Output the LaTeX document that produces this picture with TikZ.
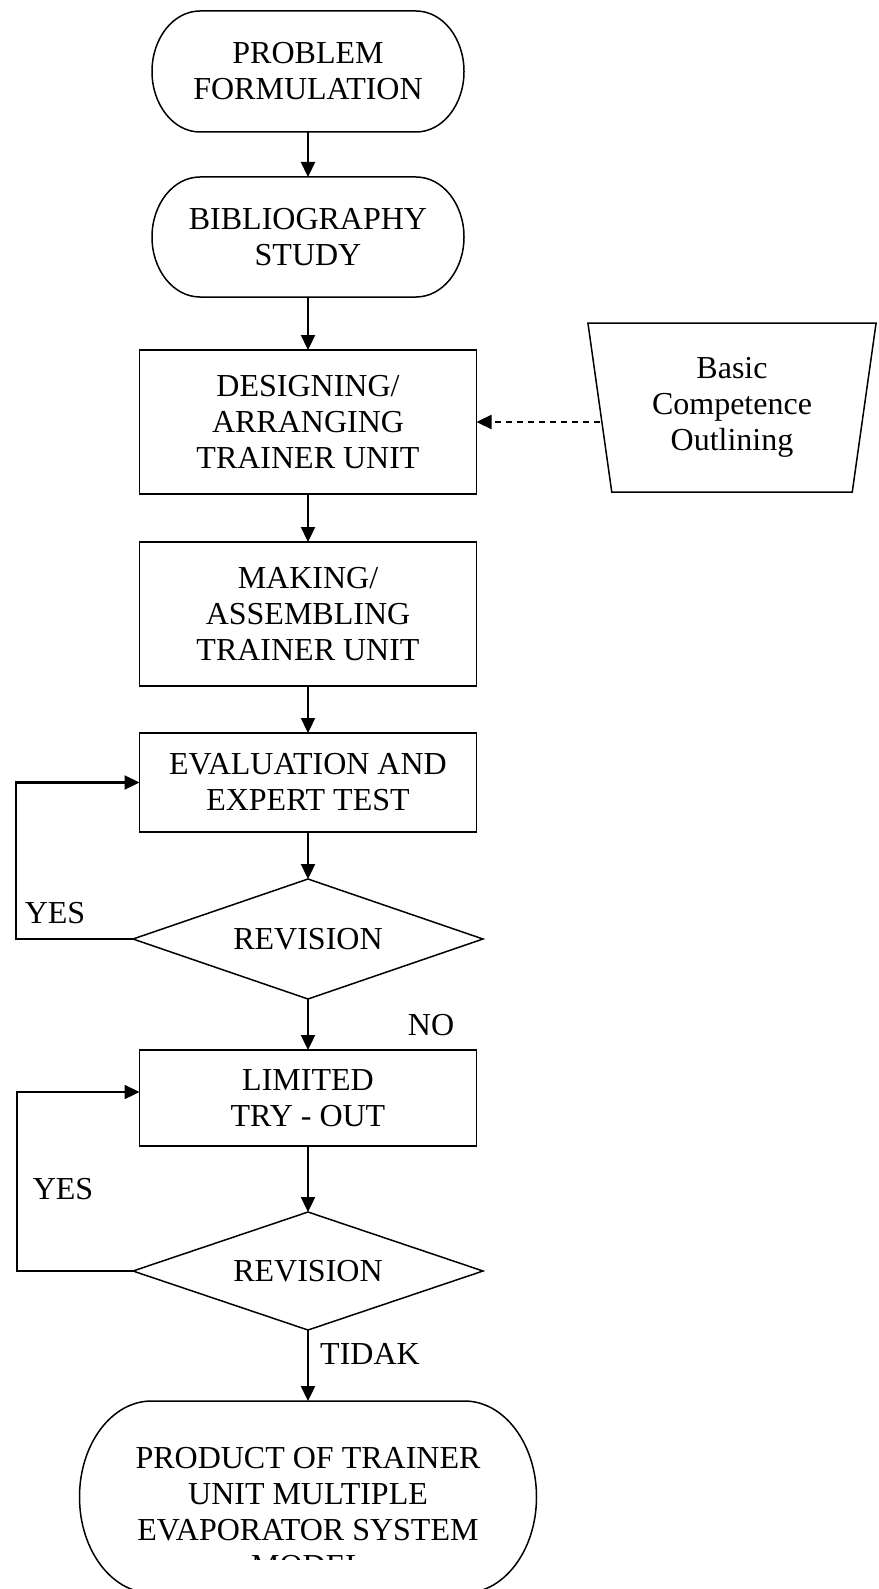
\documentclass[tikz,border=0pt]{standalone}
\usepackage{fontspec}
\setmainfont{Liberation Serif}
\usetikzlibrary{positioning,arrows.meta,shapes.geometric,calc}

\begin{document}
\begin{tikzpicture}[
        x=1pt, y=1pt,
        font=\fontsize{32pt}{36pt}\selectfont,
        every node/.style={outer sep=0pt},
        box/.style={draw, line width=1.5pt, align=center, inner sep=0pt, minimum width=337pt},
        terminal/.style={align=center, inner sep=0pt},
        decision/.style={draw, diamond, line width=1.5pt, inner sep=0pt, minimum width=350pt, minimum height=120pt, aspect=2.9},
        flow/.style={line width=2.3pt, -{Triangle[length=15pt,width=14pt]}},
        tag/.style={inner sep=0pt}
    ]
        \useasboundingbox (0,0) rectangle (878,-1589);

        % Main column
        \node[terminal, minimum width=312pt, minimum height=121pt] (prob) at (308,-71.5) {PROBLEM\\FORMULATION};
        \node[terminal, minimum width=312pt, minimum height=120pt, below=45pt of prob] (bib) {BIBLIOGRAPHY\\STUDY};
        \node[box, minimum height=144pt, below=53pt of bib] (design) {DESIGNING/\\ARRANGING\\TRAINER UNIT};
        \node[box, minimum height=144pt, below=48pt of design] (make) {MAKING/\\ASSEMBLING\\TRAINER UNIT};
        \node[box, minimum height=99pt, below=47pt of make] (eval) {EVALUATION AND\\EXPERT TEST};
        \node[decision, below=47pt of eval] (rev1) {REVISION};
        \node[box, minimum height=96pt, below=51pt of rev1] (limit) {LIMITED\\TRY - OUT};
        \node[decision, minimum height=118pt, below=66pt of limit] (rev2) {REVISION};
        % last text box overflows: only the top of MODEL shows
        \begin{scope}
            \clip (0,-1380) rectangle (878,-1559);
            \node[terminal, minimum width=457pt, minimum height=222pt, below=71pt of rev2] (prod) {PRODUCT OF TRAINER\\UNIT MULTIPLE\\EVAPORATOR SYSTEM\\MODEL};
        \end{scope}

        % Terminator outlines (elliptic ends)
        \foreach \n/\rx/\ry in {prob/48/60.5, bib/48/60, prod/72/96}
            \draw[line width=1.5pt] ($(\n.north west)+(\rx,0)$) -- ($(\n.north east)+(-\rx,0)$)
                arc[start angle=90, end angle=-90, x radius=\rx, y radius=\ry]
                -- ($(\n.north west)+(\rx,-2*\ry)$)
                arc[start angle=270, end angle=90, x radius=\rx, y radius=\ry] -- cycle;

        % Side input
        \node[draw, trapezium, trapezium left angle=81, trapezium right angle=81, shape border rotate=180,
              trapezium stretches=true, line width=1.5pt, minimum width=289pt, minimum height=169pt,
              align=center, inner sep=0pt] (basic) at (732,-407.5) {Basic\\Competence\\Outlining};

        % Arrows down the column
        \draw[flow] (prob) -- (bib);
        \draw[flow] (bib) -- (design);
        \draw[flow] (design) -- (make);
        \draw[flow] (make) -- (eval);
        \draw[flow] (eval) -- (rev1);
        \draw[flow] (rev1) -- (limit);
        \draw[flow] (limit) -- (rev2);
        \draw[flow] (rev2) -- (prod);

        % Input and loops
        \draw[flow, dash pattern=on 6pt off 5pt] (basic.west |- design.east) -- (design.east);
        \draw[flow] (rev1.west) -- ++(-117,0) |- (eval.west);
        \draw[flow] (rev2.west) -- ++(-116,0) |- ([yshift=6pt]limit.west);

        % Branch labels
        \node[tag] (yes1) at (55,-913) {YES};
        \node[tag] (yes2) at (63,-1189) {YES};
        \node[tag] (no) at (431,-1025) {NO};
        \node[tag] (tidak) at (370,-1354) {TIDAK};

    \end{tikzpicture}
\end{document}
